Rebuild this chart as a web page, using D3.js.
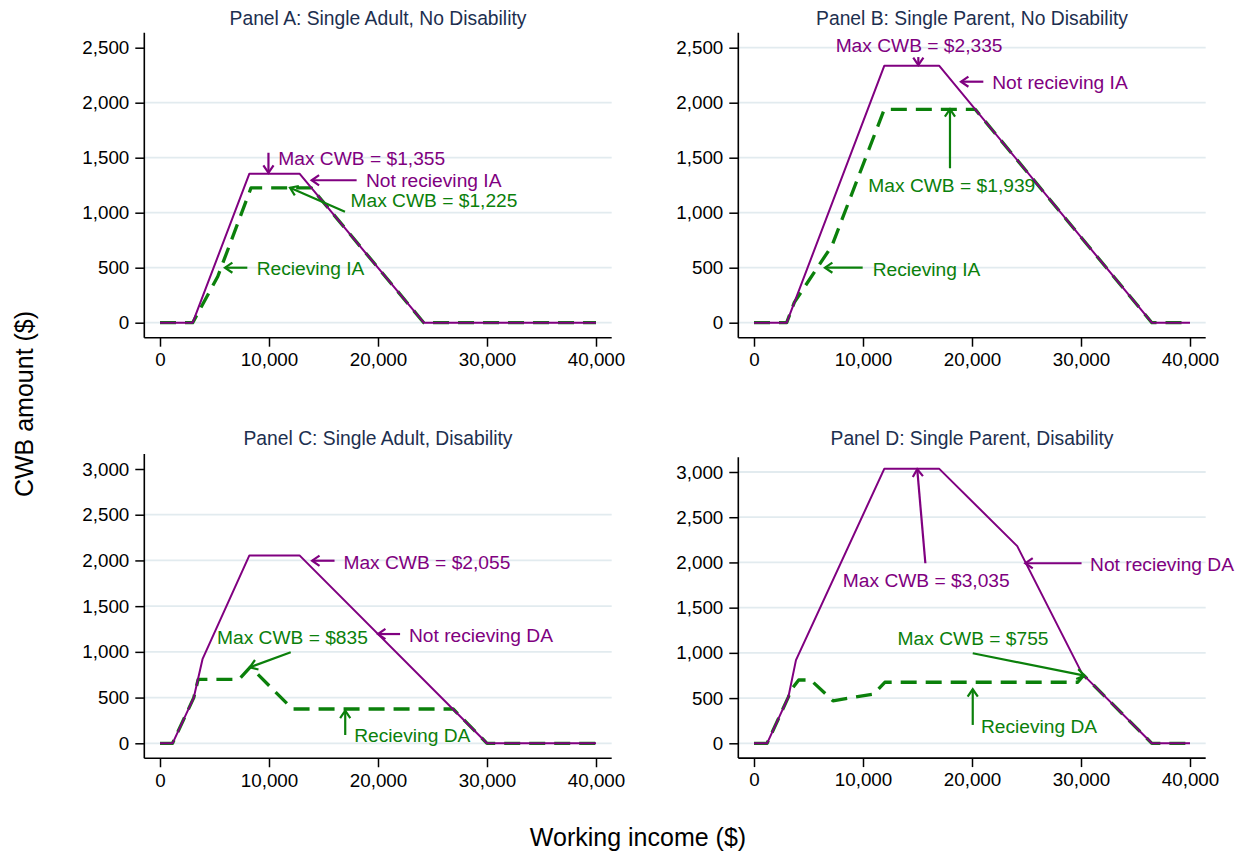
<!DOCTYPE html>
<html><head><meta charset="utf-8">
<script src="https://cdn.jsdelivr.net/npm/d3@7"></script>
<style>
html,body{margin:0;padding:0;background:#fff;}
text{font-family:"Liberation Sans",Arial,Helvetica,sans-serif;}
</style></head>
<body>
<svg id="chart" width="1242" height="857"></svg>
<script>
// ---------- DATA ----------
const xTickValues = [0, 10000, 20000, 30000, 40000];
const yTicksAB = [0, 500, 1000, 1500, 2000, 2500];
const yTicksCD = [0, 500, 1000, 1500, 2000, 2500, 3000];

const panelTitles = [
  "Panel A: Single Adult, No Disability",
  "Panel B: Single Parent, No Disability",
  "Panel C: Single Adult, Disability",
  "Panel D: Single Parent, Disability"
];

// Panel A
const incomeA_not = [0, 3000, 8200, 12800, 24200, 40000];
const cwbA_not    = [0, 0, 1355, 1355, 0, 0];
const incomeA_rec = [0, 3000, 5300, 8350, 13900, 24200, 40000];
const cwbA_rec    = [0, 0, 420, 1225, 1225, 0, 0];
// Panel B
const incomeB_not = [0, 3000, 11950, 17000, 36500, 40000];
const cwbB_not    = [0, 0, 2335, 2335, 0, 0];
const incomeB_rec = [0, 3000, 3700, 7150, 11950, 20300, 36500, 40000];
const cwbB_rec    = [0, 0, 185, 700, 1939, 1939, 0, 0];
// Panel C
const incomeC_not = [0, 1150, 3100, 3900, 8200, 12800, 30000, 40000];
const cwbC_not    = [0, 0, 500, 920, 2055, 2055, 0, 0];
const incomeC_rec = [0, 1150, 3100, 3500, 7250, 8300, 12150, 26900, 30000, 40000];
const cwbC_rec    = [0, 0, 500, 700, 700, 835, 375, 375, 0, 0];
// Panel D
const incomeD_not = [0, 1200, 3150, 3850, 11950, 17000, 24150, 30100, 36500, 40000];
const cwbD_not    = [0, 0, 510, 920, 3035, 3035, 2180, 770, 0, 0];
const incomeD_rec = [0, 1200, 3150, 3400, 4100, 5200, 7250, 11000, 12000, 29700, 30250, 36500, 40000];
const cwbD_rec    = [0, 0, 510, 590, 700, 700, 470, 545, 675, 675, 752, 0, 0];

// Annotations (data coordinates): texts and arrows
const notesA = [
  {t: "Max CWB = $1,355", x: 10850, y: 1495, s: "not"},
  {t: "Not recieving IA", x: 18900, y: 1295, s: "not"},
  {t: "Max CWB = $1,225", x: 17480, y: 1115, s: "rec"},
  {t: "Recieving IA",     x: 8870,  y: 500,  s: "rec"}
];
const arrowsA = [
  {x1: 9950,  y1: 1545, x2: 9950,  y2: 1362, s: "not"},
  {x1: 18040, y1: 1295, x2: 13914, y2: 1295, s: "not"},
  {x1: 16970, y1: 1009, x2: 11930, y2: 1227, s: "rec"},
  {x1: 8010,  y1: 500,  x2: 5960,  y2: 500,  s: "rec"}
];
const notesB = [
  {t: "Max CWB = $2,335", x: 7490,  y: 2525, s: "not"},
  {t: "Not recieving IA", x: 21860, y: 2191, s: "not"},
  {t: "Max CWB = $1,939", x: 10490, y: 1252, s: "rec"},
  {t: "Recieving IA",     x: 10890, y: 490,  s: "rec"}
];
const arrowsB = [
  {x1: 15076, y1: 2415, x2: 15076, y2: 2342, s: "not"},
  {x1: 21040, y1: 2191, x2: 18990, y2: 2191, s: "not"},
  {x1: 17980, y1: 1404, x2: 17980, y2: 1942, s: "rec"},
  {x1: 9970,  y1: 500,  x2: 6510,  y2: 500,  s: "rec"}
];
const notesC = [
  {t: "Max CWB = $2,055", x: 16830, y: 1986, s: "not"},
  {t: "Not recieving DA", x: 22843, y: 1184, s: "not"},
  {t: "Max CWB = $835",   x: 5229,  y: 1159, s: "rec"},
  {t: "Recieving DA",     x: 17810, y: 91,   s: "rec"}
];
const arrowsC = [
  {x1: 16013, y1: 1997, x2: 13954, y2: 1997, s: "not"},
  {x1: 22026, y1: 1195, x2: 20000, y2: 1195, s: "not"},
  {x1: 11993, y1: 995,  x2: 8235,  y2: 831,  s: "rec"},
  {x1: 16993, y1: 91,   x2: 16993, y2: 357,  s: "rec"}
];
const notesD = [
  {t: "Max CWB = $3,035", x: 8149,  y: 1807, s: "not"},
  {t: "Not recieving DA", x: 30832, y: 1984, s: "not"},
  {t: "Max CWB = $755",   x: 13175, y: 1162, s: "rec"},
  {t: "Recieving DA",     x: 20815, y: 192,  s: "rec"}
];
const arrowsD = [
  {x1: 15722, y1: 1991, x2: 14975, y2: 3031, s: "not"},
  {x1: 30051, y1: 1991, x2: 24890, y2: 1991, s: "not"},
  {x1: 20068, y1: 996,  x2: 30323, y2: 749,  s: "rec"},
  {x1: 20068, y1: 203,  x2: 20068, y2: 597,  s: "rec"}
];

const xAxisTitle = "Working income ($)";
const yAxisTitle = "CWB amount ($)";

// ---------- LAYOUT / STYLE ----------
const colors = {not: "#800080", rec: "#0b800b"};
const titleColor = "#1d2f4f";
const gridColor = "#e2ebef";

const panels = [
  {title: panelTitles[0], yMax: 2500, yTicks: yTicksAB, grid: [0,500,1000,1500,2000],
   xr: [160, 596], yr: [322.7, 47.7], titleY: 25,
   not: [incomeA_not, cwbA_not], rec: [incomeA_rec, cwbA_rec], notes: notesA, arrows: arrowsA},
  {title: panelTitles[1], yMax: 2500, yTicks: yTicksAB, grid: [0,500,1000,1500,2000,2500],
   xr: [754, 1190], yr: [322.7, 47.7], titleY: 25,
   not: [incomeB_not, cwbB_not], rec: [incomeB_rec, cwbB_rec], notes: notesB, arrows: arrowsB},
  {title: panelTitles[2], yMax: 3000, yTicks: yTicksCD, grid: [0,500,1000,1500,2000,2500],
   xr: [160, 596], yr: [743.3, 469], titleY: 445,
   not: [incomeC_not, cwbC_not], rec: [incomeC_rec, cwbC_rec], notes: notesC, arrows: arrowsC},
  {title: panelTitles[3], yMax: 3000, yTicks: yTicksCD, grid: [0,500,1000,1500,2000,2500,3000],
   xr: [754, 1190], yr: [743.3, 472], titleY: 445,
   not: [incomeD_not, cwbD_not], rec: [incomeD_rec, cwbD_rec], notes: notesD, arrows: arrowsD}
];

const svg = d3.select("#chart");
const fmt = d3.format(",");

panels.forEach(p => {
  const x = d3.scaleLinear().domain([0, 40000]).range(p.xr);
  const y = d3.scaleLinear().domain([0, p.yMax]).range(p.yr);
  const xPad = 1440, yPad = p.yMax * 0.0545;
  const left = x(-xPad), right = x(40000 + xPad);
  const bottom = y(-yPad), top = y(p.yMax + yPad);
  const g = svg.append("g");

  // gridlines
  g.selectAll(".grid").data(p.grid).enter().append("line")
    .attr("x1", left).attr("x2", right)
    .attr("y1", d => y(d)).attr("y2", d => y(d))
    .attr("stroke", gridColor).attr("stroke-width", 1.8);

  // y axis
  const yAxis = d3.axisLeft(y).tickValues(p.yTicks).tickFormat(fmt).tickSize(9).tickPadding(6);
  const ya = g.append("g").attr("transform", `translate(${left},0)`).call(yAxis);
  ya.select(".domain").remove();
  g.append("line").attr("x1", left).attr("x2", left).attr("y1", top).attr("y2", bottom)
    .attr("stroke", "#000").attr("stroke-width", 1.6);

  // x axis
  const xAxis = d3.axisBottom(x).tickValues(xTickValues).tickFormat(fmt).tickSize(9).tickPadding(6);
  const xa = g.append("g").attr("transform", `translate(0,${bottom})`).call(xAxis);
  xa.select(".domain").remove();
  g.append("line").attr("x1", left).attr("x2", right).attr("y1", bottom).attr("y2", bottom)
    .attr("stroke", "#000").attr("stroke-width", 1.6);

  [ya, xa].forEach(a => {
    a.selectAll(".tick line").attr("stroke", "#000").attr("stroke-width", 1.5);
    a.selectAll(".tick text").attr("font-size", 18.8).attr("fill", "#000")
      .attr("font-family", "'Liberation Sans', Arial, sans-serif");
  });

  // title
  g.append("text").attr("x", (left + right) / 2).attr("y", p.titleY)
    .attr("text-anchor", "middle").attr("font-size", 19.3).attr("fill", titleColor)
    .text(p.title);

  const line = d3.line().x(d => x(d[0])).y(d => y(d[1]));
  const recPts = p.rec[0].map((v, i) => [v, p.rec[1][i]]);
  const notPts = p.not[0].map((v, i) => [v, p.not[1][i]]);

  g.append("path").attr("d", line(recPts)).attr("fill", "none")
    .attr("stroke", colors.rec).attr("stroke-width", 3.3)
    .attr("stroke-dasharray", "16,9").attr("stroke-linejoin", "round");
  g.append("path").attr("d", line(notPts)).attr("fill", "none")
    .attr("stroke", colors.not).attr("stroke-width", 2).attr("stroke-linejoin", "round");

  // arrows
  p.arrows.forEach(a => {
    const x1 = x(a.x1), y1 = y(a.y1), x2 = x(a.x2), y2 = y(a.y2);
    const ang = Math.atan2(y2 - y1, x2 - x1);
    const L = 9, spread = 0.6;
    const c = colors[a.s];
    g.append("line").attr("x1", x1).attr("y1", y1).attr("x2", x2).attr("y2", y2)
      .attr("stroke", c).attr("stroke-width", 2.2);
    const bx1 = x2 - L * Math.cos(ang - spread), by1 = y2 - L * Math.sin(ang - spread);
    const bx2 = x2 - L * Math.cos(ang + spread), by2 = y2 - L * Math.sin(ang + spread);
    g.append("path").attr("d", `M${bx1},${by1}L${x2},${y2}L${bx2},${by2}`)
      .attr("fill", "none").attr("stroke", c).attr("stroke-width", 2.2)
      .attr("stroke-linejoin", "miter");
  });

  // notes
  p.notes.forEach(n => {
    g.append("text").attr("x", x(n.x)).attr("y", y(n.y)).attr("dy", "0.36em")
      .attr("font-size", 19.2).attr("fill", colors[n.s]).text(n.t);
  });
});

// axis titles
svg.append("text").attr("x", 638).attr("y", 846).attr("text-anchor", "middle")
  .attr("font-size", 25).attr("fill", "#000").text(xAxisTitle);
svg.append("text").attr("transform", "translate(33,404) rotate(-90)").attr("text-anchor", "middle")
  .attr("font-size", 25).attr("fill", "#000").text(yAxisTitle);
</script>
</body></html>
